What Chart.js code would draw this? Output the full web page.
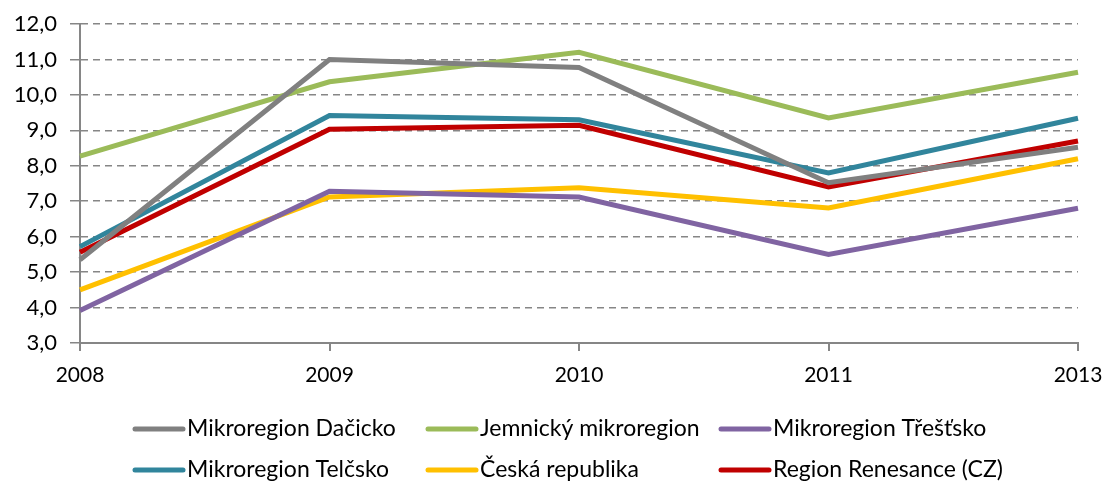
<!DOCTYPE html>
<html>
<head>
<meta charset="utf-8">
<script src="https://cdn.jsdelivr.net/npm/chart.js@4.4.0/dist/chart.umd.min.js"></script>
<style>
  html, body { margin: 0; padding: 0; background: #fff; }
  #wrap { width: 1106px; height: 485px; position: relative; }
</style>
</head>
<body>
<div id="wrap"><canvas id="graf"></canvas></div>
<script>
// ===== DATA =====
const roky = ["2008", "2009", "2010", "2011", "2013"];
const dacicko = [5.35, 11.0, 10.77, 7.52, 8.52];
const jemnicky = [8.27, 10.37, 11.2, 9.35, 10.64];
const trestsko = [3.92, 7.28, 7.12, 5.5, 6.8];
const telcsko = [5.72, 9.42, 9.3, 7.8, 9.34];
const ceskaRepublika = [4.5, 7.12, 7.38, 6.81, 8.2];
const renesance = [5.56, 9.03, 9.14, 7.4, 8.7];

const nazvy = ["Mikroregion Dačicko", "Jemnický mikroregion", "Mikroregion Třešťsko",
  "Mikroregion Telčsko", "Česká republika", "Region Renesance (CZ)"];
const barvy = ["#808080", "#9BBB59", "#8064A2", "#31859C", "#FFC000", "#C00000"];
const rady = [dacicko, jemnicky, trestsko, telcsko, ceskaRepublika, renesance];

const pismo = "Lato, 'Open Sans', sans-serif";
const sedaOsa = "#868686";

// ===== LEGENDA VE TŘECH SLOUPCÍCH =====
const legendaMrizka = {
  id: "legendaMrizka",
  afterDraw(chart) {
    const ctx = chart.ctx;
    const x0 = 133, sloupec = 293, radky = [429, 470];
    ctx.save();
    ctx.font = "23px " + pismo;
    ctx.textBaseline = "middle";
    chart.data.datasets.forEach((ds, i) => {
      const x = x0 + (i % 3) * sloupec;
      const y = radky[Math.floor(i / 3)];
      ctx.strokeStyle = ds.borderColor;
      ctx.lineWidth = 5;
      ctx.lineCap = "round";
      ctx.beginPath();
      ctx.moveTo(x + 2, y);
      ctx.lineTo(x + 50, y);
      ctx.stroke();
      ctx.fillStyle = "#000";
      ctx.fillText(ds.label, x + 54, y);
    });
    ctx.restore();
  }
};

const datasets = rady.map((data, i) => ({
  label: nazvy[i],
  data: data,
  borderColor: barvy[i],
  backgroundColor: barvy[i],
  borderWidth: 5,
  pointRadius: 0,
  tension: 0,
  fill: false
}));

new Chart(document.getElementById("graf"), {
  type: "line",
  data: { labels: roky, datasets: datasets },
  options: {
    responsive: true,
    maintainAspectRatio: false,
    animation: false,
    layout: { padding: { left: 0, right: 28, top: 24, bottom: 92 } },
    plugins: { legend: { display: false }, tooltip: { enabled: false } },
    scales: {
      x: {
        offset: false,
        afterFit: s => { s.height = 50; s.paddingLeft = 0; s.paddingRight = 0; },
        border: { color: sedaOsa, width: 2 },
        grid: { drawOnChartArea: false, drawTicks: true, tickLength: 8, color: sedaOsa, lineWidth: 2 },
        ticks: { color: "#000", font: { family: pismo, size: 21 }, padding: 12, maxRotation: 0 }
      },
      y: {
        min: 3,
        max: 12,
        afterFit: s => { s.width = 80; s.paddingTop = 0; s.paddingBottom = 0; },
        border: { color: sedaOsa, width: 2, dash: [7, 5] },
        grid: {
          color: sedaOsa,
          lineWidth: 1.5,
          tickBorderDash: [],
          tickLength: 10
        },
        ticks: {
          stepSize: 1,
          color: "#000",
          font: { family: pismo, size: 22 },
          padding: 13,
          callback: v => v.toFixed(1).replace(".", ",")
        }
      }
    }
  },
  plugins: [legendaMrizka]
});
</script>
</body>
</html>
